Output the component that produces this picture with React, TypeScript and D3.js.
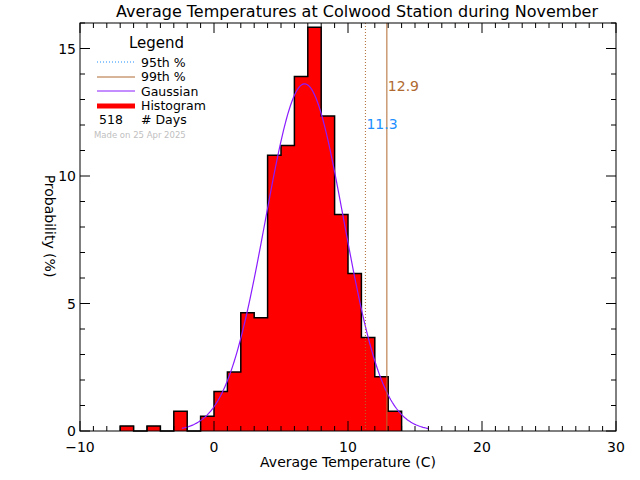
import * as d3 from "d3";

// histogram: 1-degree bins, start of each bin and number of days in it
const binStarts = [-7, -6, -5, -4, -3, -2, -1, 0, 1, 2, 3, 4, 5, 6, 7, 8, 9, 10, 11, 12, 13];
const dayCounts = [1, 0, 1, 0, 4, 0, 3, 8, 12, 24, 23, 56, 58, 72, 82, 64, 44, 32, 19, 11, 4];
const totalDays = 518;

// gaussian fit
const gaussMean = 6.76;
const gaussSigma = 2.93;
const gaussRange = [-2.4, 16.0];

const pct95 = 11.3;
const pct99 = 12.9;

const xTicks = [-10, 0, 10, 20, 30];
const yTicks = [0, 5, 10, 15];

const W = 640;
const H = 480;
const FONT = "DejaVu Sans, sans-serif";
const BROWN = "#b06a30";
const BLUE = "#1e90ff";
const PURPLE = "#8a1cff";

export default function App() {
  const x = d3.scaleLinear().domain([-10, 30]).range([80, 616]);
  const y = d3.scaleLinear().domain([0, 16]).range([431, 23]);

  const pts: [number, number][] = [[binStarts[0], 0]];
  binStarts.forEach((b, i) => {
    const v = (dayCounts[i] / totalDays) * 100;
    pts.push([b, v], [b + 1, v]);
  });
  pts.push([binStarts[binStarts.length - 1] + 1, 0]);

  const outline = d3.line<[number, number]>().x((d) => x(d[0])).y((d) => y(d[1]))(pts);
  const fill = d3
    .area<[number, number]>()
    .x((d) => x(d[0]))
    .y0(y(0))
    .y1((d) => y(d[1]))(pts);

  const peak = 100 / (gaussSigma * Math.sqrt(2 * Math.PI));
  const gx = d3.range(gaussRange[0], gaussRange[1] + 0.001, 0.1);
  const gauss = d3
    .line<number>()
    .x((d) => x(d))
    .y((d) => y(peak * Math.exp(-((d - gaussMean) ** 2) / (2 * gaussSigma ** 2))))(gx);

  const xMinor = d3.range(-10, 31, 1);
  const yMinor = d3.range(0, 17, 1);
  const [x0, x1] = x.range();
  const [y0, y1] = y.range();

  return (
    <svg
      width={W}
      height={H}
      style={{ position: "absolute", left: 0, top: 0, background: "#fff" }}
      fontFamily={FONT}
    >
      <rect width={W} height={H} fill="#fff" />
      <text x={357} y={17} fontSize={16} textAnchor="middle">
        Average Temperatures at Colwood Station during November
      </text>

      {/* histogram */}
      <path d={fill ?? ""} fill="#ff0000" />
      <path d={outline ?? ""} fill="none" stroke="#000" strokeWidth={1.5} />

      {/* gaussian */}
      <path d={gauss ?? ""} fill="none" stroke={PURPLE} strokeWidth={1.2} />

      {/* percentile lines */}
      <line x1={x(pct95)} x2={x(pct95)} y1={y1} y2={y0} stroke={BROWN} strokeWidth={1} strokeDasharray="1,2" />
      <line x1={x(pct99)} x2={x(pct99)} y1={y1} y2={y0} stroke={BROWN} strokeWidth={1} />
      <text x={x(pct99) + 1} y={91} fontSize={14} fill={BROWN}>
        {pct99.toFixed(1)}
      </text>
      <text x={x(pct95) + 1} y={129} fontSize={14} fill={BLUE}>
        {pct95.toFixed(1)}
      </text>

      {/* frame and ticks */}
      <rect x={x0} y={y1} width={x1 - x0} height={y0 - y1} fill="none" stroke="#000" strokeWidth={1} />
      {xMinor.map((t) => {
        const len = t % 10 === 0 ? 10 : 5;
        return (
          <g key={"xt" + t} stroke="#000">
            <line x1={x(t)} x2={x(t)} y1={y0} y2={y0 - len} />
            <line x1={x(t)} x2={x(t)} y1={y1} y2={y1 + len} />
          </g>
        );
      })}
      {yMinor.map((t) => {
        const len = t % 5 === 0 ? 10 : 5;
        return (
          <g key={"yt" + t} stroke="#000">
            <line x1={x0} x2={x0 + len} y1={y(t)} y2={y(t)} />
            <line x1={x1} x2={x1 - len} y1={y(t)} y2={y(t)} />
          </g>
        );
      })}
      {xTicks.map((t) => (
        <text key={"xl" + t} x={x(t)} y={452} fontSize={14} textAnchor="middle">
          {t < 0 ? "\u2212" + Math.abs(t) : t}
        </text>
      ))}
      {yTicks.map((t) => (
        <text key={"yl" + t} x={76} y={y(t) + 5} fontSize={14} textAnchor="end">
          {t}
        </text>
      ))}
      <text x={348} y={467} fontSize={14} textAnchor="middle">
        Average Temperature (C)
      </text>
      <text transform="translate(45,226) rotate(90)" fontSize={14} textAnchor="middle">
        Probability  (%)
      </text>

      {/* legend */}
      <text x={129} y={48} fontSize={15}>
        Legend
      </text>
      <line x1={97} x2={135} y1={62} y2={62} stroke={BLUE} strokeDasharray="1,2" />
      <text x={141} y={66.5} fontSize={12.5}>95th %</text>
      <line x1={97} x2={135} y1={77} y2={77} stroke={BROWN} />
      <text x={141} y={81} fontSize={12.5}>99th %</text>
      <line x1={97} x2={135} y1={91} y2={91} stroke={PURPLE} />
      <text x={141} y={95.5} fontSize={12.5}>Gaussian</text>
      <line x1={97} x2={135} y1={106} y2={106} stroke="#ff0000" strokeWidth={5} />
      <text x={141} y={110} fontSize={12.5}>Histogram</text>
      <text x={99} y={124} fontSize={12.5}>{totalDays}</text>
      <text x={141} y={124} fontSize={12.5}># Days</text>
      <text x={94} y={138} fontSize={8.5} fill="#c0c0c0">
        Made on 25 Apr 2025
      </text>
    </svg>
  );
}
